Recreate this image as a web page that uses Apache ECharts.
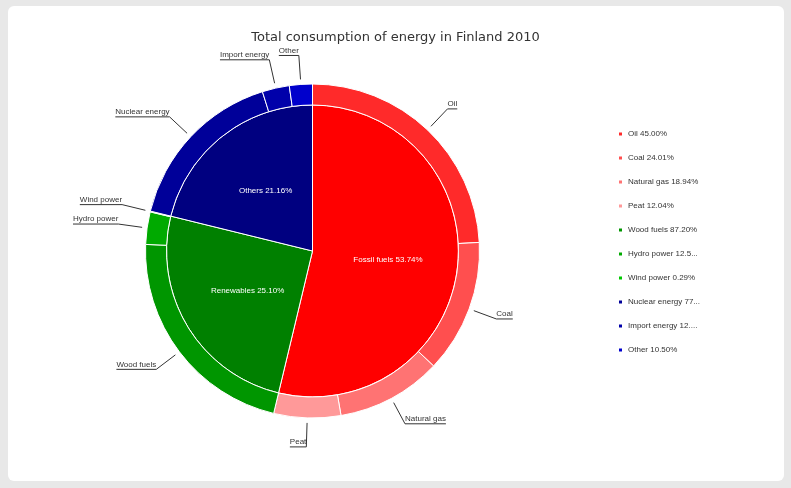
<!DOCTYPE html>
<html><head><meta charset="utf-8">
<script src="https://cdn.jsdelivr.net/npm/echarts@6/dist/echarts.min.js"></script>
<style>
html,body{margin:0;padding:0;background:#e8e8e8;overflow:hidden;}
#panel{position:absolute;left:8px;top:6px;width:776px;height:475px;background:#fff;border-radius:6px;}
#chart{position:absolute;left:0;top:0;width:791px;height:488px;}
</style></head><body>
<div id="panel"></div>
<div id="chart"></div>
<script>
const titleText = 'Total consumption of energy in Finland 2010';
const groups = ['Fossil fuels', 'Renewables', 'Others'];
const groupShares = [53.74, 25.10, 21.16];
const sources = ['Oil', 'Coal', 'Natural gas', 'Peat', 'Wood fuels', 'Hydro power', 'Wind power', 'Nuclear energy', 'Import energy', 'Other'];
const sourceGroup = [0, 0, 0, 0, 1, 1, 1, 2, 2, 2];
const shareWithinGroup = [45.00, 24.01, 18.94, 12.04, 87.20, 12.51, 0.29, 77.10, 12.40, 10.50];

const groupColors = ['#ff0000', '#008000', '#000080'];
const sourceColors = ['#ff2a2a', '#ff4f4f', '#ff7373', '#ff9999', '#009600', '#00aa00', '#00c800', '#000099', '#0000aa', '#0000cc'];

const innerData = groups.map((g, i) => ({ name: g, value: groupShares[i], itemStyle: { color: groupColors[i] } }));
const outerData = sources.map((s, i) => ({
  name: s,
  value: groupShares[sourceGroup[i]] * shareWithinGroup[i] / 100,
  itemStyle: { color: sourceColors[i] }
}));

const chart = echarts.init(document.getElementById('chart'), null, { renderer: 'canvas' });
const CX = 312.5, CY = 251;
chart.setOption({
  animation: false,
  backgroundColor: 'transparent',
  title: {
    text: titleText, left: 'center', top: 26,
    textStyle: { fontFamily: 'DejaVu Sans', fontSize: 13, fontWeight: 'normal', color: '#333' }
  },
  legend: {
    orient: 'vertical', left: 612, top: 125,
    itemWidth: 5, itemHeight: 5, itemGap: 16, icon: 'rect',
    selectedMode: false,
    data: sources,
    formatter: function (name) {
      const i = sources.indexOf(name);
      return name + ' ' + shareWithinGroup[i].toFixed(2) + '%';
    },
    textStyle: { fontFamily: 'Liberation Sans', fontSize: 8, color: '#333', width: 73.5, overflow: 'truncate', ellipsis: '...' }
  },
  series: [
    {
      type: 'pie', name: 'groups',
      center: [CX, CY], radius: [0, 146],
      startAngle: 90, clockwise: true,
      silent: true,
      itemStyle: { borderColor: '#fff', borderWidth: 1 },
      label: {
        position: 'inside', color: '#fff', fontFamily: 'Liberation Sans', fontSize: 8,
        formatter: p => p.name + ' ' + p.value.toFixed(2) + '%'
      },
      labelLine: { show: false },
      emphasis: { disabled: true },
      data: innerData
    },
    {
      type: 'pie', name: 'sources',
      center: [CX, CY], radius: [146, 167],
      startAngle: 90, clockwise: true,
      silent: true,
      avoidLabelOverlap: false,
      itemStyle: { borderColor: '#fff', borderWidth: 1 },
      label: {
        position: 'outside', color: '#333', fontFamily: 'Liberation Sans', fontSize: 8,
        formatter: '{b}'
      },
      labelLine: { show: true, length: 29, length2: 1, lineStyle: { color: '#333', width: 1 } },
      labelLayout: function (p) {
        const pts = p.labelLinePoints;
        if (!pts || pts.length < 3) return {};
        const a = pts[0], b = pts[1];
        const dx = b[0] - a[0], dy = b[1] - a[1];
        const len = Math.hypot(dx, dy) || 1;
        const s = [a[0] + dx / len * 5, a[1] + dy / len * 5];
        const right = dx >= 0;
        const w = p.labelRect.width;
        const end = [b[0] + (right ? w : -w), b[1]];
        return {
          x: right ? b[0] : b[0] - w, y: b[1] - 1,
          align: 'left', verticalAlign: 'bottom',
          labelLinePoints: [s, b, end]
        };
      },
      emphasis: { disabled: true },
      data: outerData
    }
  ]
});
</script>
</body></html>
